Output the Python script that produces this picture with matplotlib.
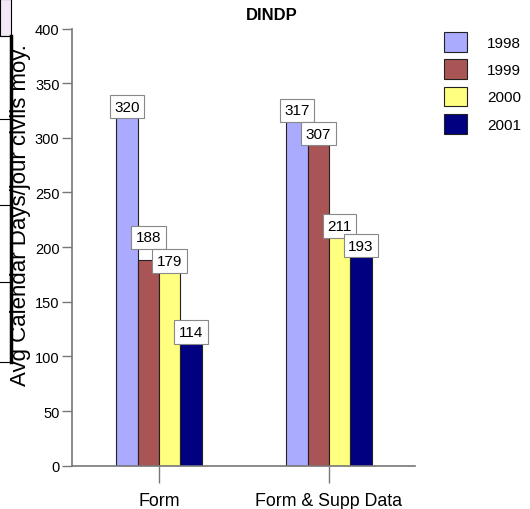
import numpy as np
import matplotlib
matplotlib.use("Agg")
import matplotlib.pyplot as plt
from matplotlib.patches import Rectangle
from matplotlib.lines import Line2D

plt.rcParams['font.family'] = ['Liberation Sans', 'DejaVu Sans']

# data
categories = ["Form", "Form & Supp Data"]
years = ["1998", "1999", "2000", "2001"]
values_1998 = [320, 317]
values_1999 = [188, 307]
values_2000 = [179, 211]
values_2001 = [114, 193]
series = [values_1998, values_1999, values_2000, values_2001]

colors = ["#aaaaff", "#aa5555", "#ffff80", "#000080"]
# vertical nudge (points) of the value boxes, to keep them apart like the original
nudge = {(0, 1): 10, (1, 1): -9}

fig = plt.figure(figsize=(5.3, 5.1), dpi=100)
W, H = 530, 510
ax = fig.add_axes([72 / W, 1 - 466.7 / H, (415 - 72) / W, (466.7 - 29.5) / H])

x = np.arange(len(categories))
width = 0.126
for i, vals in enumerate(series):
    pos = x + (i - 1.5) * width
    ax.bar(pos, vals, width, color=colors[i], edgecolor="#222222", linewidth=0.8,
           label=years[i], zorder=2)
    for j, v in enumerate(vals):
        dy = nudge.get((j, i), 0)
        ax.annotate(str(v), (pos[j], v), xytext=(0, 1.5 + dy), textcoords="offset points",
                    ha="center", va="bottom", fontsize=11, zorder=5,
                    bbox=dict(boxstyle="square,pad=0.3", fc="white", ec="#888888", lw=0.8))

ax.set_xlim(-0.512, 1.506)
ax.set_ylim(0, 400)
ax.set_yticks(np.arange(0, 401, 50))
ax.set_xticks(x)
ax.set_xticklabels(categories, fontsize=12.8)
ax.tick_params(axis="y", labelsize=10.5, length=7, color="#777777", width=1, pad=2)
ax.tick_params(axis="x", length=12, color="#777777", width=1, pad=7)
for s in ["top", "right"]:
    ax.spines[s].set_visible(False)
for s in ["left", "bottom"]:
    ax.spines[s].set_color("#777777")
    ax.spines[s].set_linewidth(1.2)

ax.set_ylabel("Avg Calendar Days/jour civils moy.", fontsize=16)
ax.yaxis.set_label_coords(-41 / 343, 0.576)
fig.text(272 / W, 1 - 15 / H, "DINDP", ha="center", va="center",
         fontsize=12, fontweight="bold")

leg = fig.legend(loc="upper left", bbox_to_anchor=(438 / W, 1 - 27 / H), frameon=False,
                 fontsize=11, handlelength=1.5, handleheight=1.6, labelspacing=0.5,
                 handletextpad=1.3, borderaxespad=0)

# leftover edge of a neighbouring table, as in the source picture
fig.add_artist(Rectangle((0, 1 - 37 / H), 11 / W, 37 / H, transform=fig.transFigure,
                         fc="#f1e9f5", ec="black", lw=0.8))
fig.add_artist(Line2D([11 / W, 11 / W], [1 - 37 / H, 1 - 363 / H],
                      transform=fig.transFigure, color="black", lw=2.5))
for yy in [37, 120, 206, 283, 363]:
    fig.add_artist(Line2D([0, 11 / W], [1 - yy / H, 1 - yy / H],
                          transform=fig.transFigure, color="black", lw=0.8))

fig.savefig("out.png", dpi=100)
